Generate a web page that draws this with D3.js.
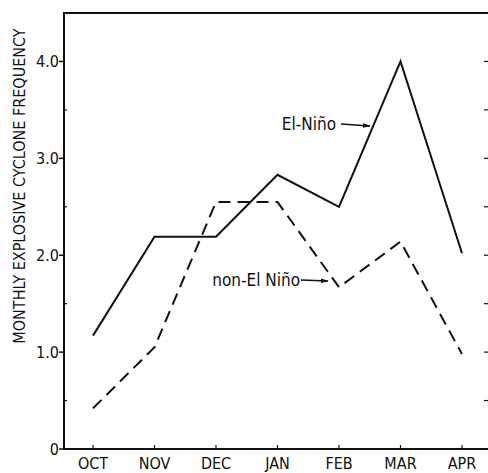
<!DOCTYPE html>
<html>
<head>
<meta charset="utf-8">
<script src="https://cdn.jsdelivr.net/npm/d3@7"></script>
<style>
  body { margin: 0; background: #fff; }
  text { font-family: "DejaVu Sans Condensed", "DejaVu Sans", sans-serif; font-stretch: condensed; fill: #111; }
</style>
</head>
<body>
<div class="Graph"></div>
<script>
var months = ["OCT", "NOV", "DEC", "JAN", "FEB", "MAR", "APR"];
var elNino = [1.17, 2.19, 2.19, 2.83, 2.5, 4.0, 2.02];
var nonElNino = [0.42, 1.05, 2.55, 2.55, 1.67, 2.14, 0.98];
var yTicks = [0, 1, 2, 3, 4];
var yTickLabels = ["0", "1.0", "2.0", "3.0", "4.0"];
var yMinor = [0.5, 1.5, 2.5, 3.5];

var W = 488, H = 473;
var pLeft = 64, pTop = 13, pBottom = 449, pRight = 488;

var svg = d3.select(".Graph")
    .append("svg")
    .attr("width", W)
    .attr("height", H);

var x = d3.scalePoint()
    .domain(months)
    .range([93, 462]);

var y = d3.scaleLinear()
    .domain([0, 4.5])
    .range([pBottom, pTop]);

// frame (no right side, it is cut off)
svg.append("path")
    .attr("d", "M" + pRight + "," + pTop + "H" + pLeft + "V" + pBottom + "H" + pRight)
    .attr("fill", "none")
    .attr("stroke", "#111")
    .attr("stroke-width", 2);

// y ticks (outward major, inward minor)
svg.selectAll(".ytick")
    .data(yTicks)
    .enter()
    .append("line")
    .attr("x1", pLeft - 5).attr("x2", pLeft)
    .attr("y1", d => y(d)).attr("y2", d => y(d))
    .attr("stroke", "#111").attr("stroke-width", 1.5);

svg.selectAll(".yminor")
    .data(yMinor)
    .enter()
    .append("line")
    .attr("x1", pLeft).attr("x2", pLeft + 3)
    .attr("y1", d => y(d)).attr("y2", d => y(d))
    .attr("stroke", "#111").attr("stroke-width", 1.2);

// right side ticks
svg.selectAll(".rtick")
    .data(yTicks.slice(1).concat(yMinor))
    .enter()
    .append("line")
    .attr("x1", pRight - 4).attr("x2", pRight)
    .attr("y1", d => y(d)).attr("y2", d => y(d))
    .attr("stroke", "#111").attr("stroke-width", 1.2);

svg.selectAll(".ylab")
    .data(yTicks)
    .enter()
    .append("text")
    .attr("x", pLeft - 5)
    .attr("y", d => y(d) + 6)
    .attr("text-anchor", "end")
    .style("font-size", "16px")
    .text((d, i) => yTickLabels[i]);

// x ticks
svg.selectAll(".xtick")
    .data(months)
    .enter()
    .append("line")
    .attr("x1", d => x(d)).attr("x2", d => x(d))
    .attr("y1", pBottom).attr("y2", pBottom - 4)
    .attr("stroke", "#111").attr("stroke-width", 1.2);

svg.selectAll(".xlab")
    .data(months)
    .enter()
    .append("text")
    .attr("x", d => x(d))
    .attr("y", 469)
    .attr("text-anchor", "middle")
    .style("font-size", "16px")
    .text(d => d);

// axis title
svg.append("text")
    .attr("transform", "translate(25,186) rotate(-90)")
    .attr("text-anchor", "middle")
    .style("font-size", "16px")
    .text("MONTHLY EXPLOSIVE CYCLONE FREQUENCY");

var line = d3.line()
    .x((d, i) => x(months[i]))
    .y(d => y(d));

svg.append("path")
    .datum(elNino)
    .attr("d", line)
    .attr("fill", "none")
    .attr("stroke", "#111")
    .attr("stroke-width", 2);

svg.append("path")
    .datum(nonElNino)
    .attr("d", line)
    .attr("fill", "none")
    .attr("stroke", "#111")
    .attr("stroke-width", 2)
    .attr("stroke-dasharray", "12,7");

// labels with arrows
svg.append("defs").append("marker")
    .attr("id", "arr")
    .attr("viewBox", "0 0 10 10")
    .attr("refX", 9).attr("refY", 5)
    .attr("markerWidth", 6).attr("markerHeight", 6)
    .attr("orient", "auto")
    .append("path")
    .attr("d", "M0,2L10,5L0,8Z")
    .attr("fill", "#111");

svg.append("text")
    .attr("x", 336).attr("y", 130)
    .attr("text-anchor", "end")
    .style("font-size", "17px")
    .text("El-Niño");
svg.append("line")
    .attr("x1", 341).attr("x2", 370)
    .attr("y1", 124).attr("y2", 126)
    .attr("stroke", "#111").attr("stroke-width", 1.3)
    .attr("marker-end", "url(#arr)");

svg.append("text")
    .attr("x", 300).attr("y", 286)
    .attr("text-anchor", "end")
    .style("font-size", "17px")
    .text("non-El Niño");
svg.append("line")
    .attr("x1", 301).attr("x2", 328)
    .attr("y1", 280).attr("y2", 281)
    .attr("stroke", "#111").attr("stroke-width", 1.3)
    .attr("marker-end", "url(#arr)");
</script>
</body>
</html>
